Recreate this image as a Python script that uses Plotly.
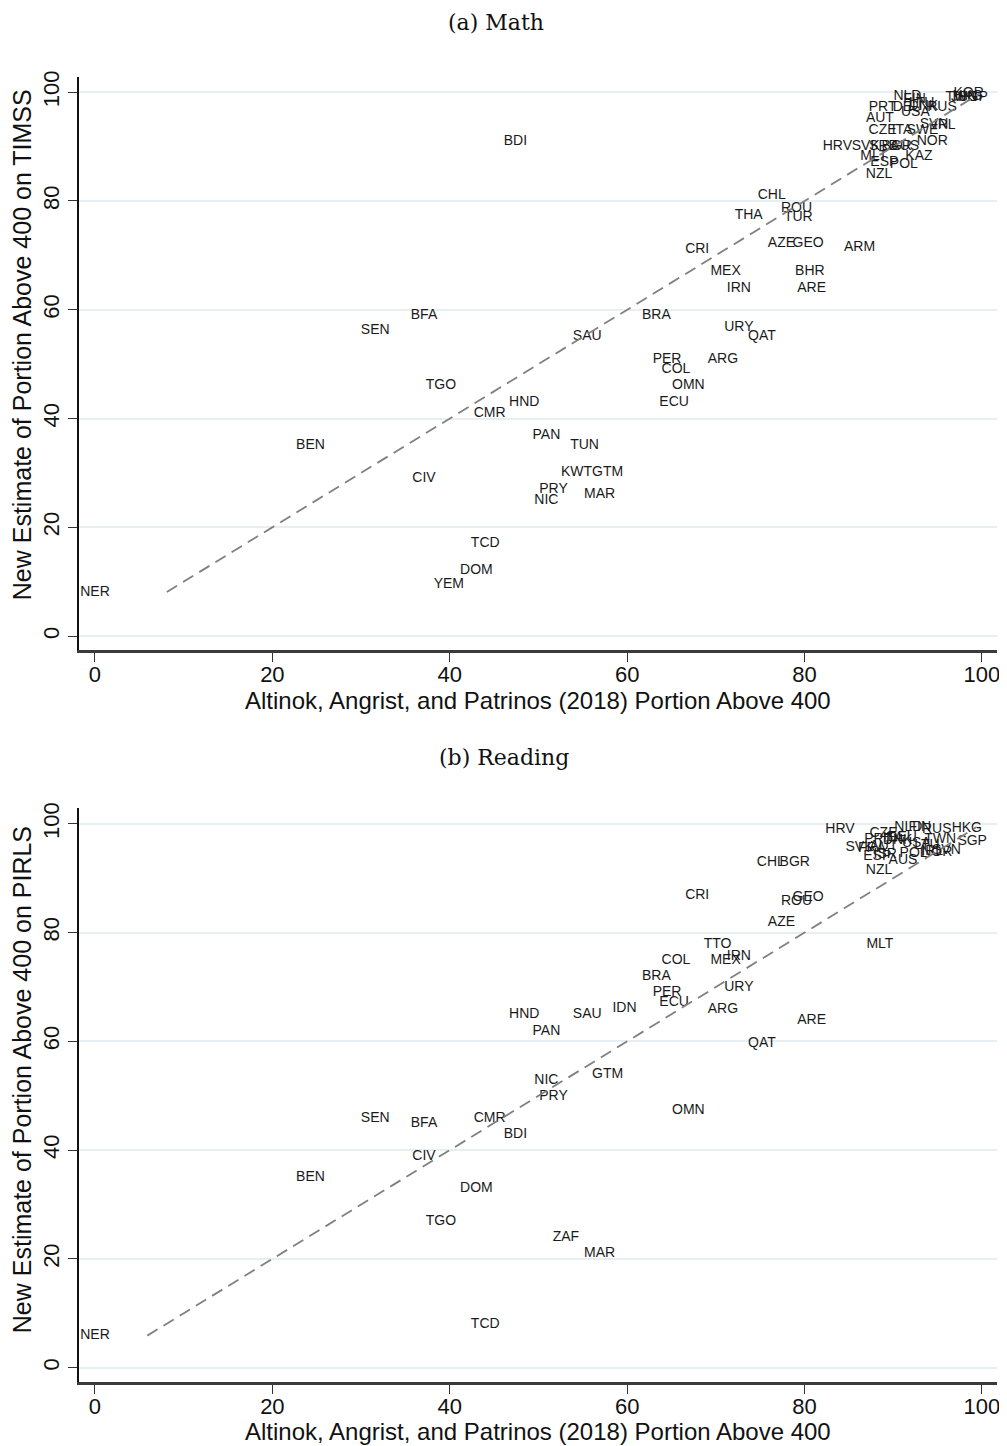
"""Country-level comparison of new learning estimates vs. AAP (2018), math and reading."""

import plotly.graph_objects as go

# ---- Math (TIMSS) ----
math_codes = [
    "KOR", "JPN", "HKG", "SGP", "TWN", "NLD", "LTU", "FIN", "RUS", "PRT",
    "DEU", "DNK", "USA", "AUT", "CZE", "ITA", "SWE", "SVN", "IRL", "NOR",
    "HRV", "SVK", "SRB", "BGR", "AUS", "MLT", "KAZ", "ESP", "POL", "NZL",
    "BDI", "CHL", "ROU", "TUR", "THA", "CRI", "AZE", "GEO", "ARM", "MEX",
    "BHR", "IRN", "ARE", "BFA", "SEN", "BRA", "SAU", "URY", "QAT", "PER",
    "ARG", "COL", "OMN", "TGO", "HND", "ECU", "CMR", "BEN", "PAN", "TUN",
    "CIV", "KWT", "GTM", "PRY", "MAR", "NIC", "TCD", "DOM", "YEM", "NER",
]
math_aap = [
    98.5, 98.0, 98.4, 99.0, 97.7, 91.6, 93.2, 92.4, 95.5, 88.8,
    91.6, 93.4, 92.5, 88.5, 88.8, 91.0, 93.3, 94.6, 95.8, 94.4,
    83.7, 86.9, 88.9, 90.4, 91.3, 87.8, 92.9, 89.0, 91.2, 88.4,
    47.4, 76.3, 79.1, 79.3, 73.7, 67.9, 77.4, 80.4, 86.2, 71.1,
    80.6, 72.6, 80.8, 37.1, 31.6, 63.3, 55.5, 72.6, 75.2, 64.5,
    70.8, 65.5, 66.9, 39.0, 48.4, 65.3, 44.5, 24.3, 50.9, 55.2,
    37.1, 54.3, 57.8, 51.7, 56.9, 50.9, 44.0, 43.0, 39.9, 0.0,
]
math_new = [
    99.8, 99.0, 99.2, 99.0, 99.1, 99.2, 97.9, 98.6, 97.2, 97.2,
    97.2, 97.4, 96.2, 95.2, 93.0, 93.0, 93.0, 94.1, 93.9, 91.0,
    90.1, 90.1, 90.1, 90.1, 90.1, 88.1, 88.1, 87.0, 86.8, 84.9,
    91.0, 81.1, 78.7, 77.0, 77.4, 71.1, 72.2, 72.1, 71.5, 67.1,
    67.1, 64.0, 64.0, 59.0, 56.1, 59.0, 55.0, 56.8, 55.0, 50.9,
    50.9, 49.1, 46.0, 46.0, 43.0, 43.0, 41.0, 35.1, 36.9, 35.1,
    29.0, 30.0, 30.0, 27.0, 26.1, 25.0, 17.1, 12.0, 9.4, 8.1,
]

# ---- Reading (PIRLS) ----
read_codes = [
    "HRV", "NLD", "CZE", "FIN", "RUS", "HKG", "SGP", "PRT", "DEU", "ITA",
    "DNK", "LTU", "TWN", "SVK", "FRA", "AUT", "USA", "IRL", "NOR", "SVN",
    "POL", "ESP", "ISR", "AUS", "NZL", "CHL", "BGR", "CRI", "ROU", "GEO",
    "AZE", "TTO", "IRN", "MEX", "COL", "MLT", "BRA", "URY", "PER", "ECU",
    "ARG", "IDN", "SAU", "HND", "PAN", "ARE", "QAT", "GTM", "NIC", "PRY",
    "OMN", "SEN", "BFA", "CMR", "BDI", "CIV", "BEN", "DOM", "TGO", "ZAF",
    "MAR", "TCD", "NER",
]
read_aap = [
    84.0, 91.7, 88.9, 93.0, 94.9, 98.3, 98.9, 88.3, 91.0, 90.0,
    90.5, 93.8, 95.3, 86.2, 87.6, 88.9, 92.6, 94.4, 94.9, 96.0,
    92.3, 88.2, 89.1, 91.1, 88.4, 76.2, 78.9, 67.9, 79.1, 80.4,
    77.4, 70.2, 72.6, 71.1, 65.5, 88.5, 63.3, 72.6, 64.5, 65.3,
    70.8, 59.7, 55.5, 48.4, 50.9, 80.8, 75.2, 57.8, 50.9, 51.7,
    66.9, 31.6, 37.1, 44.5, 47.4, 37.1, 24.3, 43.0, 39.0, 53.1,
    56.9, 44.0, 0.0,
]
read_new = [
    98.9, 99.4, 98.2, 99.3, 98.9, 99.1, 96.7, 97.2, 97.4, 97.3,
    97.0, 96.1, 97.2, 95.6, 95.4, 95.9, 96.4, 95.0, 94.8, 95.1,
    94.5, 94.0, 94.4, 93.2, 91.5, 92.8, 92.8, 86.8, 85.8, 86.4,
    81.8, 77.9, 75.6, 74.8, 74.8, 77.9, 71.9, 69.9, 68.9, 67.1,
    65.8, 66.0, 64.9, 64.9, 61.9, 63.8, 59.6, 53.9, 52.8, 49.8,
    47.2, 45.8, 44.9, 45.8, 42.8, 38.8, 34.9, 32.9, 26.8, 23.9,
    21.0, 7.9, 5.9,
]

TICKS = [0, 20, 40, 60, 80, 100]
LABEL_FONT = {"family": "Liberation Sans, Arial", "size": 14, "color": "#1a1a1a"}
GRID = "#e8eff3"

fig = go.Figure()

panels = [
    (math_codes, math_aap, math_new, "x", "y"),
    (read_codes, read_aap, read_new, "x2", "y2"),
]
for codes, xs, ys, xa, ya in panels:
    fig.add_trace(
        go.Scatter(
            x=xs,
            y=ys,
            text=codes,
            mode="text",
            textposition="middle center",
            textfont=LABEL_FONT,
            xaxis=xa,
            yaxis=ya,
            showlegend=False,
            hoverinfo="text",
        )
    )
    # 45-degree reference line across the range of the new estimates
    lo, hi = min(ys), max(ys)
    fig.add_trace(
        go.Scatter(
            x=[lo, hi],
            y=[lo, hi],
            mode="lines",
            line={"color": "#808080", "width": 1.8, "dash": "12px,7px"},
            xaxis=xa,
            yaxis=ya,
            showlegend=False,
            hoverinfo="skip",
        )
    )

xaxis_style = dict(
    range=[-1.8, 101.7],
    tickvals=TICKS,
    ticks="outside",
    ticklen=9,
    tickcolor="#333333",
    ticklabelstandoff=-6,
    tickfont={"family": "Liberation Sans, Arial", "size": 22, "color": "#111111"},
    showgrid=False,
    zeroline=False,
    showline=True,
    linecolor="#3a3a3a",
    linewidth=2.5,
    domain=[0, 1],
)
yaxis_style = dict(
    tickvals=TICKS,
    ticks="outside",
    ticklen=9,
    tickcolor="#333333",
    tickangle=-90,
    tickfont={"family": "Liberation Sans, Arial", "size": 22, "color": "#111111"},
    showgrid=True,
    gridcolor=GRID,
    gridwidth=1.5,
    zeroline=False,
    showline=True,
    linecolor="#111111",
    linewidth=1.5,
)

# the page body adds an 8px offset, so the figure is sized 8px smaller
fig.update_layout(
    width=999,
    height=1438,
    plot_bgcolor="white",
    paper_bgcolor="white",
    margin={"l": 71, "r": 7, "t": 69, "b": 64},
    xaxis={**xaxis_style, "anchor": "y"},
    yaxis={**yaxis_style, "range": [-2.57, 102.8], "domain": [0.5609, 1], "anchor": "x"},
    xaxis2={**xaxis_style, "anchor": "y2"},
    yaxis2={**yaxis_style, "range": [-2.63, 102.9], "domain": [0, 0.4398], "anchor": "x2"},
)

title_font = {"family": "DejaVu Serif, Liberation Serif, serif", "size": 22, "color": "#111111"}
axis_font = {"family": "Liberation Sans, Arial", "size": 24, "color": "#111111"}
y_font = {**axis_font, "size": 25}
x_title = "Altinok, Angrist, and Patrinos (2018) Portion Above 400"

annotations = [
    dict(text="(a) Math", x=0.4538, y=1.0414, font=title_font),
    dict(text="(b) Reading", x=0.4625, y=0.4789, font=title_font),
    dict(text=x_title, x=0.5, y=0.5226, font=axis_font),
    dict(text=x_title, x=0.5, y=-0.0383, font=axis_font),
    dict(text="New Estimate of Portion Above 400 on TIMSS", x=-0.0619, y=0.7946,
         textangle=-90, font=y_font),
    dict(text="New Estimate of Portion Above 400 on PIRLS", x=-0.0619, y=0.2314,
         textangle=-90, font=y_font),
]
for a in annotations:
    fig.add_annotation(xref="paper", yref="paper", showarrow=False,
                       xanchor="center", yanchor="middle", **a)

fig.write_html("out.html")
